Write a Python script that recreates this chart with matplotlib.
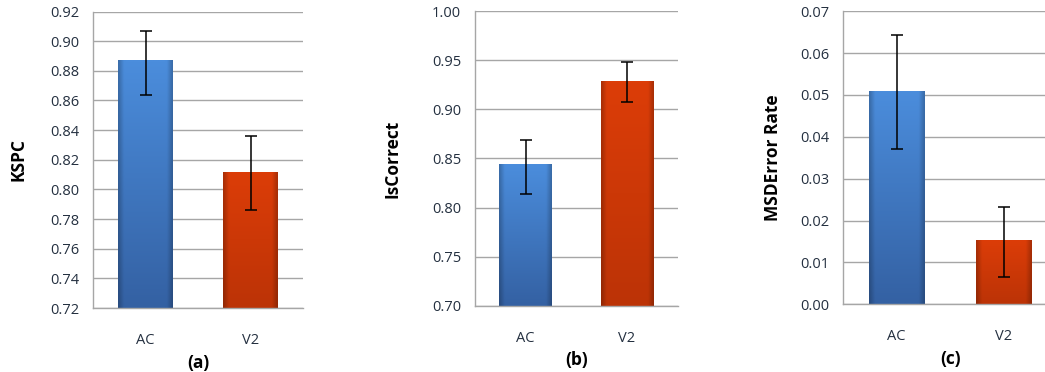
import matplotlib
matplotlib.use("Agg")
import matplotlib.pyplot as plt
import numpy as np

plt.rcParams["font.family"] = ["Open Sans", "DejaVu Sans"]

categories = ["AC", "V2"]

kspc_mean = [0.887, 0.812]
kspc_low = [0.864, 0.786]
kspc_high = [0.907, 0.836]

correct_mean = [0.844, 0.929]
correct_low = [0.814, 0.908]
correct_high = [0.869, 0.948]

msd_mean = [0.0510, 0.0153]
msd_low = [0.0371, 0.0064]
msd_high = [0.0643, 0.0233]

panels = [
    ("KSPC", "(a)", kspc_mean, kspc_low, kspc_high, (0.72, 0.92), 0.02, "{:.2f}"),
    ("IsCorrect", "(b)", correct_mean, correct_low, correct_high, (0.70, 1.00), 0.05, "{:.2f}"),
    ("MSDError Rate", "(c)", msd_mean, msd_low, msd_high, (0.0, 0.07), 0.01, "{:.2f}"),
]

# позиции осей в долях фигуры
positions = [
    (0.089, 0.172, 0.201, 0.797),
    (0.4545, 0.178, 0.194, 0.792),
    (0.8067, 0.182, 0.205, 0.788),
]
# x-координата подписи оси Y (доля ширины осей)
ylabel_x = [-0.31, -0.36, -0.285]

bar_colors = [("#4b8ddc", "#3461a3"), ("#dc3d08", "#bc3306")]
text_color = "#243040"


def gradient_bar(ax, bar, top_hex, bottom_hex):
    """Залить столбец вертикальным градиентом с затемнением краёв."""
    top = np.array(matplotlib.colors.to_rgb(top_hex))
    bottom = np.array(matplotlib.colors.to_rgb(bottom_hex))
    ny, nx = 64, 32
    t = np.linspace(0, 1, ny)[:, None, None]
    img = top * (1 - t) + bottom * t
    img = np.repeat(img, nx, axis=1)
    xs = np.linspace(-1, 1, nx)
    edge = 1 - 0.22 * np.clip((np.abs(xs) - 0.8) / 0.2, 0, 1)
    img = img * edge[None, :, None]
    x0, y0 = bar.get_x(), bar.get_y()
    w, h = bar.get_width(), bar.get_height()
    im = ax.imshow(img, extent=(x0, x0 + w, y0, y0 + h), aspect="auto",
                   origin="upper", zorder=2, interpolation="bilinear")
    im.set_clip_path(bar)


fig = plt.figure(figsize=(10.45, 3.72), dpi=100)

for pos, lx, (ylabel, xlabel, mean, low, high, ylim, step, fmt) in zip(positions, ylabel_x, panels):
    ax = fig.add_axes(pos)
    x = np.arange(len(categories))
    bars = ax.bar(x, [m - ylim[0] for m in mean], bottom=ylim[0], width=0.52,
                  color="none", edgecolor="none", zorder=2)
    for bar, (c_top, c_bot) in zip(bars, bar_colors):
        gradient_bar(ax, bar, c_top, c_bot)
    yerr = [np.array(mean) - np.array(low), np.array(high) - np.array(mean)]
    ax.errorbar(x, mean, yerr=yerr, fmt="none", ecolor="black", elinewidth=1.1,
                capsize=4, capthick=1.1, zorder=3)

    ax.set_xlim(-0.5, 1.5)
    ax.set_ylim(*ylim)
    ticks = np.arange(ylim[0], ylim[1] + step / 2, step)
    ax.set_yticks(ticks)
    ax.set_yticklabels([fmt.format(t) for t in ticks])
    ax.set_xticks(x)
    ax.set_xticklabels(categories)

    ax.yaxis.grid(True, color="#a6a6a6", linewidth=1.0)
    ax.set_axisbelow(True)
    for side in ["top", "right"]:
        ax.spines[side].set_visible(False)
    for side in ["left", "bottom"]:
        ax.spines[side].set_color("#a6a6a6")
        ax.spines[side].set_linewidth(1.0)
    ax.tick_params(axis="both", length=0, colors=text_color, labelsize=10.5)
    ax.tick_params(axis="y", pad=10)
    ax.tick_params(axis="x", pad=18)

    ax.set_ylabel(ylabel, fontsize=12.5, fontweight="bold", color="black")
    ax.yaxis.set_label_coords(lx, 0.5)
    ax.set_xlabel(xlabel, fontsize=12.5, fontweight="bold", color="black", labelpad=4)

fig.savefig("out.png", dpi=100)
